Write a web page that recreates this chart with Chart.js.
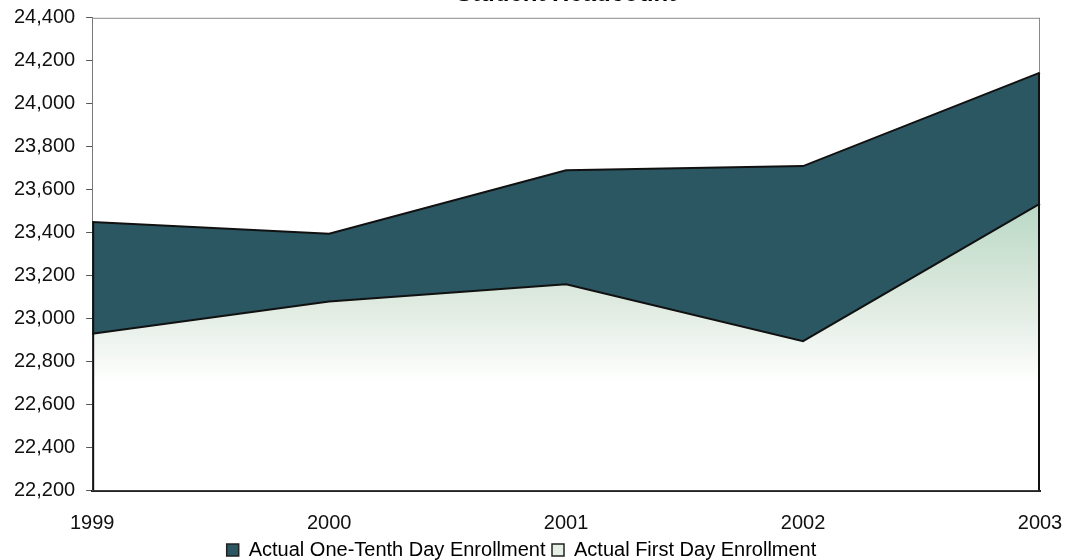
<!DOCTYPE html>
<html>
<head>
<meta charset="utf-8">
<script src="https://cdn.jsdelivr.net/npm/chart.js@4"></script>
<style>
  html, body { margin: 0; padding: 0; background: #fff; overflow: hidden; }
  #wrap { position: absolute; left: 0; top: -20px; width: 1065px; height: 590px; }
</style>
</head>
<body>
<div id="wrap"><canvas id="mainCanvas"></canvas></div>
<script>
const years = ['1999', '2000', '2001', '2002', '2003'];
const oneTenthDay = [23450, 23395, 23690, 23710, 24145];
const firstDay = [22930, 23080, 23160, 22895, 23535];
const yTicks = [22200, 22400, 22600, 22800, 23000, 23200, 23400, 23600, 23800, 24000, 24200, 24400];

const darkTeal = '#2b5763';

// light green wash that fades to white toward the bottom
function firstDayFill(context) {
  const { chart } = context;
  if (!chart.chartArea) return '#e4efe6';
  const y = chart.scales.y;
  const g = chart.ctx.createLinearGradient(0, y.getPixelForValue(23600), 0, y.getPixelForValue(22700));
  g.addColorStop(0, '#b4d6c2');
  g.addColorStop(0.6, '#e0ebe1');
  g.addColorStop(1, '#ffffff');
  return g;
}

// thin frame round the plot area, plus the dark edges below the band at both ends
const frame = {
  id: 'frame',
  afterDraw(chart) {
    const { ctx, chartArea: a } = chart;
    const high = chart.getDatasetMeta(1).data;
    const last = high.length - 1;
    ctx.save();
    ctx.strokeStyle = '#8a8a8a';
    ctx.lineWidth = 1;
    ctx.beginPath();
    ctx.moveTo(a.left, a.top + 0.5);
    ctx.lineTo(a.right, a.top + 0.5);
    ctx.moveTo(a.right - 0.5, a.top);
    ctx.lineTo(a.right - 0.5, high[last].y);
    ctx.stroke();
    ctx.strokeStyle = '#111';
    ctx.lineWidth = 2;
    ctx.beginPath();
    ctx.moveTo(a.left + 1, high[0].y);
    ctx.lineTo(a.left + 1, a.bottom);
    ctx.moveTo(a.right - 1, high[last].y);
    ctx.lineTo(a.right - 1, a.bottom);
    ctx.stroke();
    ctx.restore();
  }
};

Chart.defaults.font.family = '"Liberation Sans", Arial, sans-serif';
Chart.defaults.color = '#1a1a1a';

new Chart(document.getElementById('mainCanvas'), {
  type: 'line',
  data: {
    labels: years,
    datasets: [
      {
        label: 'Actual First Day Enrollment',
        data: firstDay,
        fill: 'start',
        backgroundColor: firstDayFill,
        borderColor: '#111',
        borderWidth: 2,
        pointRadius: 0,
        tension: 0
      },
      {
        label: 'Actual One-Tenth Day Enrollment',
        data: oneTenthDay,
        fill: '-1',
        backgroundColor: darkTeal,
        borderColor: '#111',
        borderWidth: 2,
        pointRadius: 0,
        tension: 0
      }
    ]
  },
  options: {
    responsive: true,
    maintainAspectRatio: false,
    animation: false,
    layout: { autoPadding: false, padding: { left: 3, right: 25, top: 0, bottom: 0 } },
    plugins: {
      title: {
        display: true,
        fullSize: false,
        text: 'Student Headcount',
        font: { size: 24, weight: 'bold' },
        color: '#000',
        padding: { top: 0, bottom: 9 }
      },
      legend: {
        position: 'bottom',
        reverse: true,
        labels: {
          boxWidth: 12,
          boxHeight: 12,
          padding: 6.5,
          font: { size: 20, lineHeight: 1 },
          color: '#111',
          generateLabels(chart) {
            return chart.data.datasets.map((ds, i) => ({
              text: ds.label,
              fillStyle: i === 1 ? darkTeal : '#e6efe6',
              strokeStyle: '#222',
              lineWidth: 1.5,
              datasetIndex: i
            }));
          }
        }
      },
      tooltip: { enabled: false }
    },
    scales: {
      x: {
        offset: false,
        grid: { display: true, drawOnChartArea: false, drawTicks: true, tickLength: 23, tickColor: 'rgba(0,0,0,0)' },
        border: { color: '#222', width: 2 },
        ticks: { font: { size: 20, lineHeight: 1 }, color: '#111', padding: 0, maxRotation: 0 }
      },
      y: {
        min: 22200,
        max: 24400,
        afterBuildTicks(axis) {
          axis.ticks = yTicks.map(v => ({ value: v }));
        },
        grid: { drawOnChartArea: false, tickLength: 6, color: '#555' },
        border: { color: '#777', width: 1 },
        ticks: {
          font: { size: 20 },
          color: '#111',
          padding: 11,
          callback: v => v.toLocaleString('en-US')
        }
      }
    }
  },
  plugins: [frame]
});
</script>
</body>
</html>
